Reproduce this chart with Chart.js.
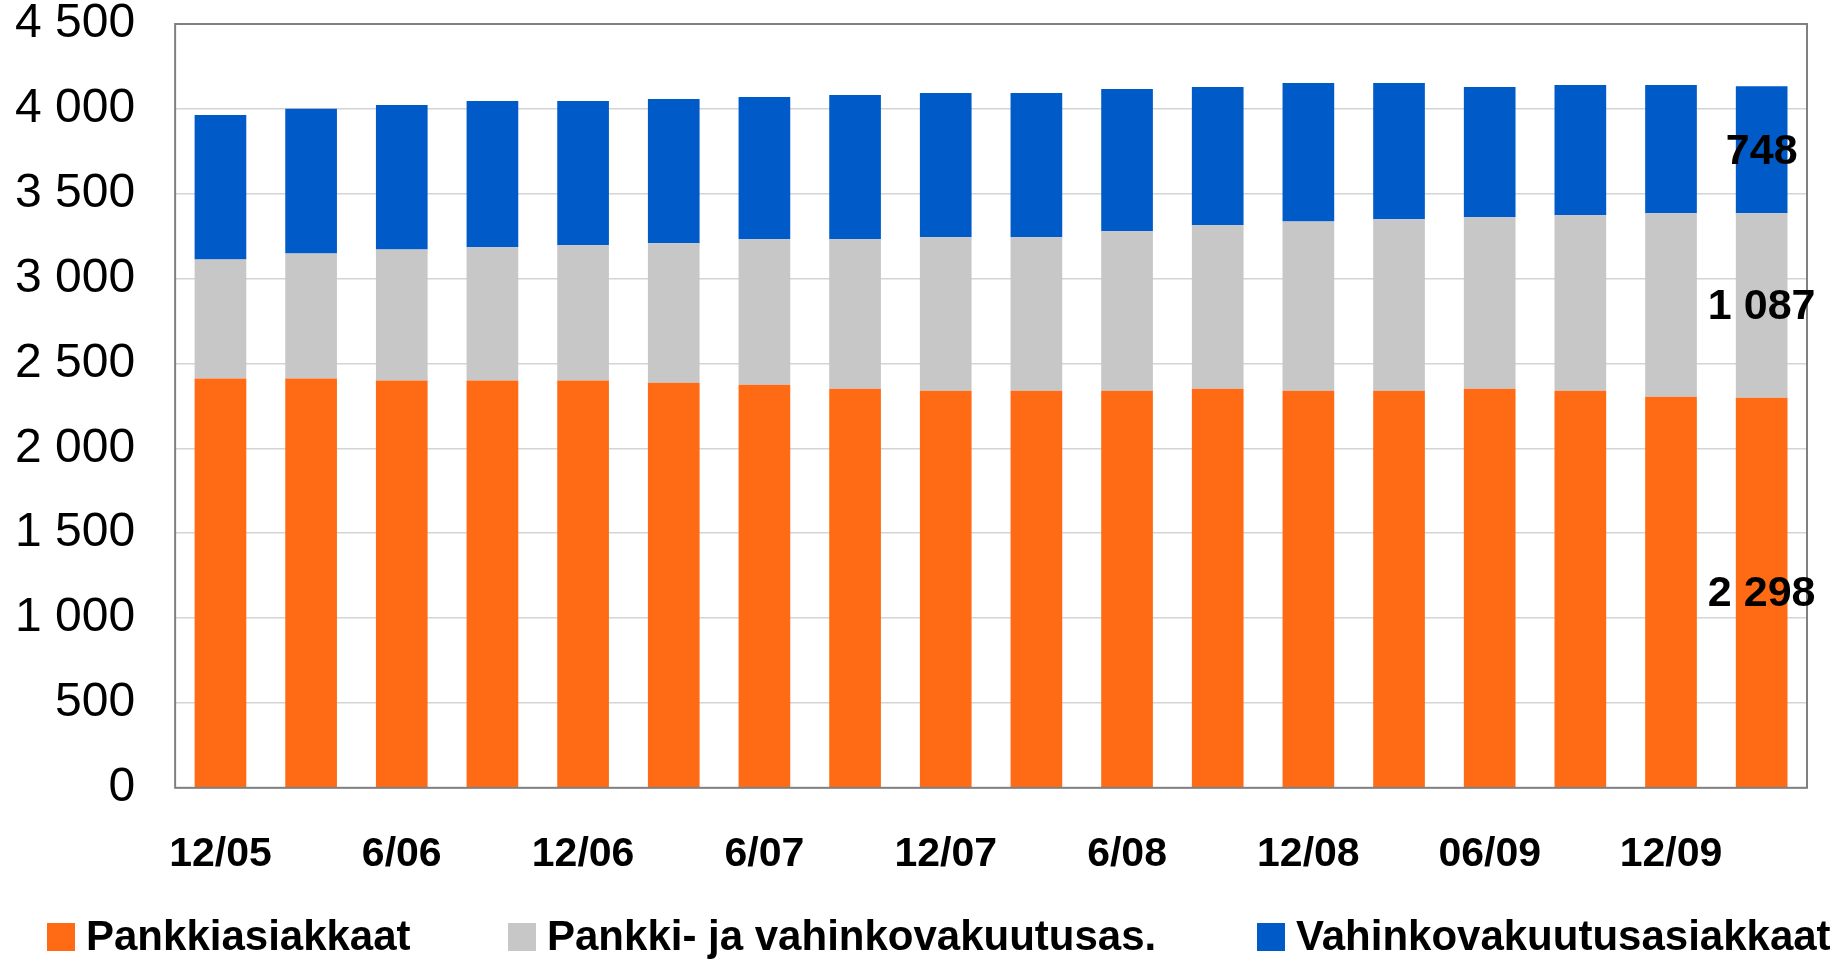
<!DOCTYPE html>
<html>
<head>
<meta charset="utf-8">
<script src="https://cdn.jsdelivr.net/npm/chart.js@4.4.1/dist/chart.umd.min.js"></script>
<style>
  html, body { margin: 0; padding: 0; background: #fff; overflow: hidden; }
  #wrap { width: 1830px; height: 960px; position: relative; }
</style>
</head>
<body>
<div id="wrap"><canvas id="myChart"></canvas></div>
<script>
// quarters 12/05 .. 3/10, every second one is labelled on the axis
const categories = ['12/05', '3/06', '6/06', '9/06', '12/06', '3/07', '6/07', '9/07', '12/07',
                    '3/08', '6/08', '9/08', '12/08', '3/09', '06/09', '9/09', '12/09', '3/10'];

const pankkiasiakkaat = [2411, 2411, 2400, 2400, 2400, 2386, 2374, 2351, 2339,
                         2339, 2339, 2351, 2339, 2339, 2351, 2339, 2304, 2298];
const pankkiJaVahinko = [702, 737, 772, 784, 796, 822, 858, 881, 904,
                         904, 940, 963, 998, 1010, 1010, 1034, 1081, 1087];
const vahinkoasiakkaat = [851, 852, 851, 863, 851, 850, 838, 850, 851,
                          851, 838, 815, 816, 804, 768, 768, 756, 748];

const seriesNames = ['Pankkiasiakkaat', 'Pankki- ja vahinkovakuutusas.', 'Vahinkovakuutusasiakkaat'];
const yTicks = [0, 500, 1000, 1500, 2000, 2500, 3000, 3500, 4000, 4500];

const FONT = '"Liberation Sans", Arial, sans-serif';

function fmt(v) {
  return String(v).replace(/\B(?=(\d{3})+(?!\d))/g, ' ');
}

// grey frame around the plot area
const framePlugin = {
  id: 'frame',
  afterDatasetsDraw(chart) {
    const a = chart.chartArea, ctx = chart.ctx;
    ctx.save();
    ctx.strokeStyle = '#808080';
    ctx.lineWidth = 2;
    ctx.strokeRect(a.left, a.top, a.right - a.left, a.bottom - a.top);
    ctx.restore();
  }
};

// values written on the last bar
const lastValuePlugin = {
  id: 'lastValues',
  afterDatasetsDraw(chart) {
    const ctx = chart.ctx;
    ctx.save();
    ctx.font = 'bold 43px ' + FONT;
    ctx.fillStyle = '#000';
    ctx.textAlign = 'center';
    ctx.textBaseline = 'middle';
    chart.data.datasets.forEach((ds, i) => {
      const meta = chart.getDatasetMeta(i);
      const last = ds.data.length - 1;
      const bar = meta.data[last];
      ctx.fillText(fmt(ds.data[last]), bar.x, (bar.y + bar.base) / 2 + 2);
    });
    ctx.restore();
  }
};

// legend row at the bottom
const legendX = [47, 508, 1257];
const legendPlugin = {
  id: 'bottomLegend',
  afterDraw(chart) {
    const ctx = chart.ctx;
    const y = 937;
    ctx.save();
    ctx.font = 'bold 42px ' + FONT;
    ctx.textBaseline = 'middle';
    ctx.textAlign = 'left';
    chart.data.datasets.forEach((ds, i) => {
      ctx.fillStyle = ds.backgroundColor;
      ctx.fillRect(legendX[i], y - 14, 28, 28);
      ctx.fillStyle = '#000';
      ctx.fillText(ds.label, legendX[i] + 39, y + 1);
    });
    ctx.restore();
  }
};

const ctx = document.getElementById('myChart').getContext('2d');
new Chart(ctx, {
  type: 'bar',
  data: {
    labels: categories,
    datasets: [
      { label: seriesNames[0], data: pankkiasiakkaat, backgroundColor: '#ff6b14' },
      { label: seriesNames[1], data: pankkiJaVahinko, backgroundColor: '#c7c7c7' },
      { label: seriesNames[2], data: vahinkoasiakkaat, backgroundColor: '#005bc8' }
    ]
  },
  options: {
    responsive: true,
    maintainAspectRatio: false,
    animation: false,
    layout: { padding: { left: 15, right: 23, top: 0, bottom: 81 } },
    datasets: {
      bar: { barPercentage: 0.57, categoryPercentage: 1.0 }
    },
    scales: {
      x: {
        stacked: true,
        grid: { display: true, drawOnChartArea: false, drawTicks: true, tickLength: 42, tickColor: 'rgba(0,0,0,0)' },
        border: { display: false },
        ticks: {
          autoSkip: false,
          maxRotation: 0,
          padding: 0,
          color: '#000',
          font: { family: FONT, size: 41, weight: 'bold' },
          callback: function (val, idx) {
            return idx % 2 === 0 ? categories[idx] : '';
          }
        }
      },
      y: {
        stacked: true,
        min: yTicks[0],
        max: yTicks[yTicks.length - 1],
        afterBuildTicks: (scale) => { scale.ticks = yTicks.map(v => ({ value: v })); },
        grid: { color: '#d4d4d4', lineWidth: 1.5, drawTicks: true, tickLength: 40, tickColor: 'rgba(0,0,0,0)' },
        border: { display: false },
        ticks: {
          padding: 0,
          color: '#000',
          font: { family: FONT, size: 48, lineHeight: 1 },
          callback: (v) => fmt(v)
        }
      }
    },
    plugins: {
      legend: { display: false },
      tooltip: { enabled: false }
    }
  },
  plugins: [framePlugin, lastValuePlugin, legendPlugin]
});
</script>
</body>
</html>
